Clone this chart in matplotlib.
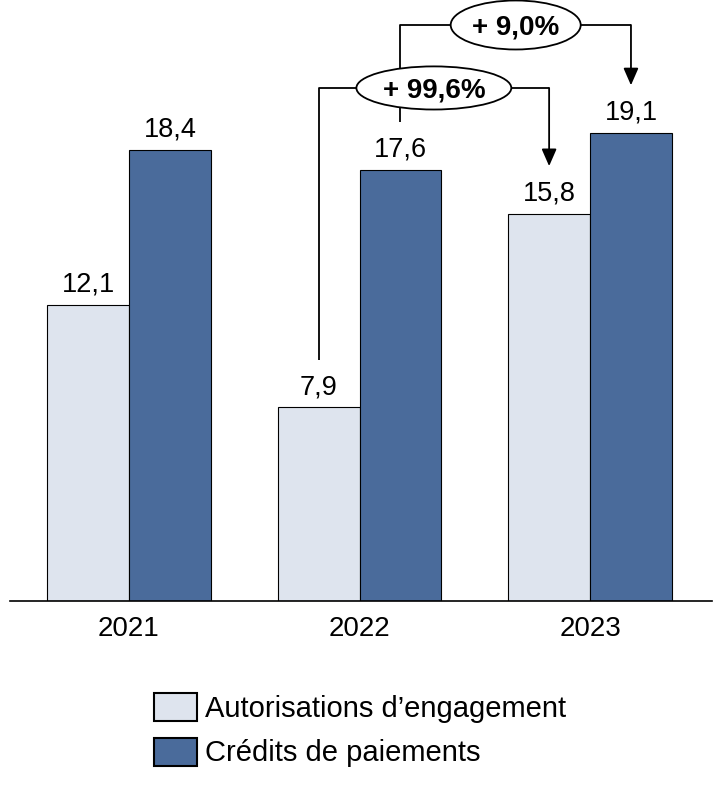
import matplotlib
matplotlib.use("Agg")
import matplotlib.pyplot as plt
from matplotlib.patches import Ellipse, Patch

plt.rcParams['font.family'] = ['Liberation Sans', 'DejaVu Sans']

years = ["2021", "2022", "2023"]
ae = [12.1, 7.9, 15.8]
cp = [18.4, 17.6, 19.1]
series_labels = ["Autorisations d\u2019engagement", "Crédits de paiements"]
growth_labels = ["+ 99,6%", "+ 9,0%"]

c_light = "#DEE4EE"
c_dark = "#4A6B9B"

W, H = 719, 788
fig = plt.figure(figsize=(W / 100, H / 100), dpi=100)
ax = fig.add_axes([10 / W, (H - 601) / H, 702 / W, 601 / H])

bw = 0.355
x = list(range(len(years)))
xl = [i - bw / 2 for i in x]
xd = [i + bw / 2 for i in x]
ax.bar(xl, ae, width=bw, color=c_light, edgecolor="black", linewidth=0.8, zorder=2)
ax.bar(xd, cp, width=bw, color=c_dark, edgecolor="black", linewidth=0.8, zorder=2)

for xs, vals in ((xl, ae), (xd, cp)):
    for xi, v in zip(xs, vals):
        ax.annotate(f"{v:.1f}".replace(".", ","), (xi, v), xytext=(0, 9.5),
                    textcoords="offset points", ha="center", va="baseline",
                    fontsize=19.5, color="black")

ax.set_xlim(-0.516, 2.529)
ax.set_ylim(0, 24.53)
ax.set_xticks(x)
ax.set_xticklabels(years, fontsize=20)
ax.tick_params(axis="x", length=0, pad=11)
ax.set_yticks([])
for s in ("left", "right", "top"):
    ax.spines[s].set_visible(False)
ax.spines["bottom"].set_linewidth(1.2)

gap = 1.95
lw = 1.3


def bracket(x0, y0, x1, y1, level, label, ew, eh):
    ax.plot([x0, x0, x1], [y0 + gap, level, level], color="black", lw=lw,
            zorder=3, clip_on=False, solid_capstyle="butt")
    ax.annotate("", xy=(x1, y1 + gap), xytext=(x1, level),
                arrowprops=dict(arrowstyle="-|>,head_length=0.8,head_width=0.35",
                                color="black", lw=lw, shrinkA=0, shrinkB=0,
                                mutation_scale=13),
                zorder=3, annotation_clip=False)
    xc = (x0 + x1) / 2
    e = Ellipse((xc, level), ew, eh, facecolor="white", edgecolor="black",
                lw=lw, zorder=4, clip_on=False)
    ax.add_patch(e)
    ax.text(xc, level, label, ha="center", va="center_baseline", fontsize=20,
            fontweight="bold", zorder=5)


# 9,0% : CP 2022 -> CP 2023
bracket(xd[1], cp[1], xd[2], cp[2], 23.51, growth_labels[1], 0.564, 2.0)
# 99,6% : AE 2022 -> AE 2023
bracket(xl[1], ae[1], xl[2], ae[2], 20.94, growth_labels[0], 0.672, 1.76)

handles = [Patch(facecolor=c_light, edgecolor="black", linewidth=1.5),
           Patch(facecolor=c_dark, edgecolor="black", linewidth=1.5)]
fig.legend(handles, series_labels, loc="upper left",
           bbox_to_anchor=(154 / W, 1 - 693 / H), frameon=False,
           fontsize=21, handlelength=1.47, handleheight=1.1,
           handletextpad=0.28, labelspacing=0.5, borderpad=0,
           borderaxespad=0)

fig.savefig("out.png", dpi=100)
